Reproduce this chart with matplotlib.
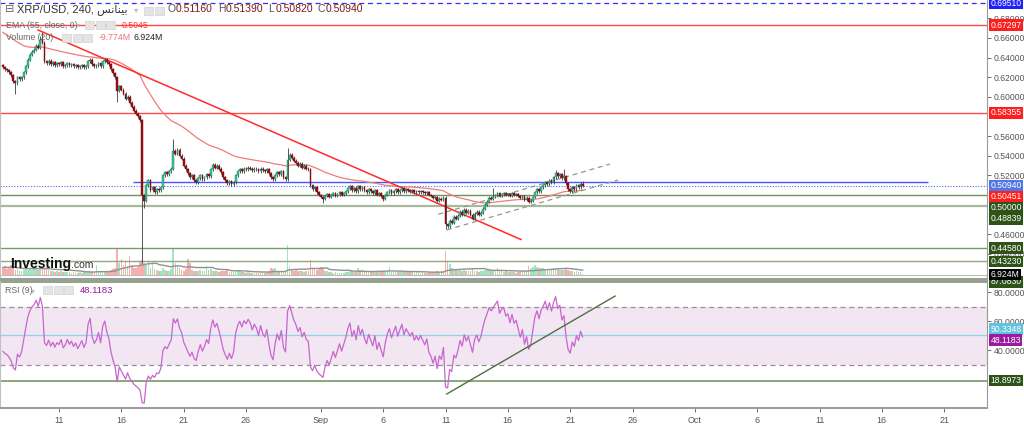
import numpy as np
import pandas as pd
import matplotlib
matplotlib.use("Agg")
import matplotlib.pyplot as plt
import matplotlib.dates as mdates
from matplotlib.transforms import blended_transform_factory
from matplotlib.patches import Rectangle

plt.rcParams['font.family'] = ['Liberation Sans', 'DejaVu Sans']
NARROW = ['Liberation Sans', 'DejaVu Sans']

# ---------------- data ----------------
start_time = "2023-08-06 12:00"      # first 4h candle
first_open = 0.6320
closes = [
    0.630, 0.628, 0.627,                          # Aug 6
    0.625, 0.622, 0.616, 0.614, 0.620, 0.618,     # Aug 7
    0.620, 0.625, 0.631, 0.638, 0.643, 0.646,     # Aug 8
    0.648, 0.652, 0.650, 0.658, 0.655, 0.636,     # Aug 9
    0.634, 0.637, 0.633, 0.635, 0.632, 0.634,     # Aug 10
    0.633, 0.635, 0.631, 0.632, 0.634, 0.632,     # Aug 11
    0.633, 0.631, 0.632, 0.630, 0.631, 0.632,     # Aug 12
    0.630, 0.631, 0.636, 0.638, 0.633, 0.631,     # Aug 13
    0.632, 0.634, 0.631, 0.636, 0.638, 0.635,     # Aug 14
    0.633, 0.628, 0.624, 0.620, 0.606, 0.611,     # Aug 15
    0.607, 0.603, 0.598, 0.600, 0.594, 0.590,     # Aug 16
    0.586, 0.583, 0.580, 0.576, 0.500, 0.494,     # Aug 17
    0.510, 0.515, 0.505, 0.508, 0.503, 0.506,     # Aug 18
    0.505, 0.508, 0.520, 0.523, 0.521, 0.524,     # Aug 19
    0.527, 0.545, 0.542, 0.546, 0.540, 0.537,     # Aug 20
    0.530, 0.526, 0.522, 0.518, 0.520, 0.515,     # Aug 21
    0.513, 0.517, 0.520, 0.516, 0.518, 0.521,     # Aug 22
    0.519, 0.526, 0.531, 0.528, 0.530, 0.527,     # Aug 23
    0.523, 0.518, 0.515, 0.512, 0.514, 0.511,     # Aug 24
    0.513, 0.520, 0.524, 0.526, 0.524, 0.527,     # Aug 25
    0.526, 0.528, 0.527, 0.525, 0.527, 0.526,     # Aug 26
    0.524, 0.527, 0.525, 0.524, 0.526, 0.522,     # Aug 27
    0.518, 0.516, 0.520, 0.523, 0.521, 0.524,     # Aug 28
    0.518, 0.516, 0.536, 0.541, 0.538, 0.535,     # Aug 29
    0.533, 0.530, 0.532, 0.528, 0.530, 0.527,     # Aug 30
    0.526, 0.510, 0.506, 0.508, 0.503, 0.500,     # Aug 31
    0.498, 0.496, 0.499, 0.501, 0.498, 0.500,     # Sep 1
    0.502, 0.499, 0.501, 0.503, 0.500, 0.502,     # Sep 2
    0.504, 0.507, 0.509, 0.505, 0.507, 0.504,     # Sep 3
    0.509, 0.506, 0.508, 0.505, 0.503, 0.506,     # Sep 4
    0.504, 0.502, 0.505, 0.500, 0.502, 0.499,     # Sep 5
    0.496, 0.500, 0.503, 0.505, 0.502, 0.504,     # Sep 6
    0.506, 0.503, 0.505, 0.507, 0.504, 0.506,     # Sep 7
    0.505, 0.504, 0.505, 0.503, 0.504, 0.503,     # Sep 8
    0.504, 0.503, 0.502, 0.503, 0.500, 0.499,     # Sep 9
    0.497, 0.498, 0.494, 0.496, 0.495, 0.497,     # Sep 10
    0.470, 0.468, 0.474, 0.472, 0.478, 0.476,     # Sep 11
    0.479, 0.483, 0.480, 0.485, 0.482, 0.484,     # Sep 12
    0.480, 0.476, 0.481, 0.483, 0.480, 0.482,     # Sep 13
    0.486, 0.490, 0.493, 0.497, 0.496, 0.498,     # Sep 14
    0.500, 0.502, 0.499, 0.501, 0.502, 0.500,     # Sep 15
    0.501, 0.499, 0.502, 0.500, 0.501, 0.499,     # Sep 16
    0.497, 0.499, 0.495, 0.497, 0.493, 0.494,     # Sep 17
    0.498, 0.503, 0.506, 0.504, 0.508, 0.510,     # Sep 18
    0.513, 0.511, 0.515, 0.513, 0.518, 0.522,     # Sep 19
    0.519, 0.521, 0.517, 0.519, 0.512, 0.506,     # Sep 20
    0.504, 0.508, 0.506, 0.510, 0.508, 0.5116,    # Sep 21
    0.5094,                                       # Sep 22
]
# notable wick extremes (candle index -> price)
high_override = {18: 0.662, 19: 0.666, 82: 0.557, 137: 0.548, 236: 0.507,
                 266: 0.525, 270: 0.527, 279: 0.5139}
low_override = {6: 0.603, 55: 0.595, 67: 0.431, 68: 0.487, 154: 0.492,
                183: 0.494, 213: 0.465, 279: 0.5082}
volumes = [  # millions
    90, 110, 70,
    100, 120, 85, 60, 75, 50,
    45, 55, 70, 60, 80, 65,
    70, 95, 60, 110, 85, 90,
    80, 60, 45, 40, 35, 40,
    35, 40, 30, 35, 30, 28,
    25, 30, 22, 25, 30, 24,
    28, 30, 45, 40, 30, 28,
    120, 45, 35, 50, 40, 45,
    40, 60, 70, 90, 330, 150,
    200, 130, 180, 110, 245, 120,
    90, 80, 100, 165, 190, 150,
    120, 165, 80, 150, 70, 60,
    50, 45, 90, 60, 50, 45,
    70, 340, 150, 110, 80, 60,
    50, 70, 200, 150, 60, 45,
    40, 45, 55, 40, 50, 110,
    60, 70, 50, 45, 40, 35,
    50, 45, 40, 55, 35, 30,
    30, 35, 55, 40, 35, 30,
    25, 28, 22, 25, 24, 26,
    25, 30, 28, 26, 35, 45,
    80, 70, 85, 45, 40, 35,
    45, 50, 380, 110, 70, 50,
    60, 45, 50, 40, 35, 40,
    45, 190, 90, 70, 60, 80,
    95, 85, 50, 40, 35, 30,
    25, 28, 22, 26, 24, 25,
    30, 35, 45, 40, 30, 35,
    80, 60, 75, 45, 40, 35,
    35, 40, 30, 45, 35, 40,
    50, 45, 40, 95, 35, 30,
    30, 35, 40, 30, 28, 35,
    30, 28, 35, 25, 30, 28,
    25, 28, 22, 25, 30, 28,
    35, 30, 40, 35, 45, 50,
    300, 175, 135, 90, 70, 60,
    65, 55, 50, 60, 45, 40,
    50, 80, 45, 40, 35, 40,
    50, 60, 55, 70, 65, 60,
    50, 80, 45, 40, 35, 40,
    30, 28, 35, 30, 25, 28,
    35, 40, 45, 50, 110, 90,
    100, 120, 95, 80, 90, 85,
    70, 60, 75, 65, 80, 90,
    70, 60, 55, 65, 75, 60,
    45, 40, 35, 40, 30, 35,
    6.924,
]
ema_seed = 0.667            # EMA value just before the first visible candle
ema_len = 55
rsi_len = 9
rsi_seed_gain = 0.0026      # Wilder averages just before the first visible candle
rsi_seed_loss = 0.0038
vol_ma_len = 20

# horizontal levels
top_dashed_level = 0.69510
red_levels = [0.67297, 0.58355]
green_levels = [0.50000, 0.48839, 0.44580, 0.43230]
blue_seg_level = 0.5130
blue_seg_span = ("2023-08-16 22:00", "2023-10-19 16:00")
last_price = 0.50940
ema_last = 0.50451
# drawn lines (time, price)
red_trend = [("2023-08-09 07:36", 0.6681), ("2023-09-17 01:12", 0.4547)]
chan_upper = [("2023-09-10 10:00", 0.4804), ("2023-09-24 04:48", 0.5316)]
chan_lower = [("2023-09-11 02:24", 0.4644), ("2023-09-24 20:24", 0.5153)]
rsi_trend = [("2023-09-11 02:24", 9.66), ("2023-09-24 14:24", 77.2)]
rsi_levels = {"upper": 70, "lower": 30, "cyan": 50.3348, "green_low": 18.8973, "green_top": 87.0830}
rsi_last = 48.1183

tick_dates = ["2023-08-11", "2023-08-16", "2023-08-21", "2023-08-26", "2023-09-01",
              "2023-09-06", "2023-09-11", "2023-09-16", "2023-09-21", "2023-09-26",
              "2023-10-01", "2023-10-06", "2023-10-11", "2023-10-16", "2023-10-21"]
tick_labels = ["11", "16", "21", "26", "Sep", "6", "11", "16", "21", "26",
               "Oct", "6", "11", "16", "21"]
price_ticks = [0.44, 0.46, 0.52, 0.54, 0.56, 0.60, 0.62, 0.64, 0.66, 0.68]
rsi_ticks = [40, 60, 80]

# ---------------- derived ----------------
def tnum(s):
    return mdates.date2num(pd.Timestamp(s).to_pydatetime())

times = pd.date_range(start_time, periods=len(closes), freq="4h")
xs = mdates.date2num(times.to_pydatetime())
c = np.array(closes, dtype=float)
o = np.r_[first_open, c[:-1]]
wick = 0.0015
hi = np.maximum(o, c) + wick
lo = np.minimum(o, c) - wick
for k, v in high_override.items():
    hi[k] = v
for k, v in low_override.items():
    lo[k] = v
up = c >= o

alpha = 2.0 / (ema_len + 1)
ema = np.empty_like(c)
prev = ema_seed
for i, v in enumerate(c):
    prev = prev + alpha * (v - prev)
    ema[i] = prev

d = np.diff(c, prepend=first_open)
gain = np.clip(d, 0, None)
loss = np.clip(-d, 0, None)
rsi = np.empty_like(c)
ag, al = rsi_seed_gain, rsi_seed_loss
for i in range(len(c)):
    ag = (ag * (rsi_len - 1) + gain[i]) / rsi_len
    al = (al * (rsi_len - 1) + loss[i]) / rsi_len
    rsi[i] = 100.0 if al == 0 else 100 - 100 / (1 + ag / al)

vol = np.array(volumes, dtype=float)
vol_ma = pd.Series(vol).rolling(vol_ma_len, min_periods=1).mean().values

# ---------------- figure ----------------
W, H = 1024, 424
fig = plt.figure(figsize=(W / 100, H / 100), dpi=100)
fig.patch.set_facecolor('white')

def fx(x):
    return x / W

def fy(y):
    return 1 - y / H

MAIN_BOT = 278
ax = fig.add_axes([0, fy(MAIN_BOT), fx(987), MAIN_BOT / H])
rax = fig.add_axes([0, fy(408), fx(987), (408 - 281) / H], sharex=ax)

PX_PER = 981.8
def p2px(p):
    return 18.3 + (0.68 - p) * PX_PER
def px2p(y):
    return 0.68 - (y - 18.3) / PX_PER

ax.set_ylim(px2p(MAIN_BOT), px2p(0))
ax.set_xlim(tnum("2023-08-06 06:24"), tnum("2023-10-24 10:20"))

# volume overlay
vax = ax.twinx()
M_PER_PX = 13.0
vbase = 274.5
vax.set_ylim(-(MAIN_BOT - vbase) * M_PER_PX, vbase * M_PER_PX)
vcol = np.where(up, '#9fe5c6', '#f7aeae')
vax.bar(xs, vol, width=0.8 * 4 / 24, color=vcol, lw=0, zorder=1)
vax.plot(xs, vol_ma, color='#929292', lw=1.0, zorder=2)
vax.axhline(0, color='#b5c2ad', lw=0.8)
vax.axis('off')
ax.set_zorder(vax.get_zorder() + 1)
ax.patch.set_visible(False)

# horizontal levels
ax.axhline(top_dashed_level, color='#3030ff', lw=0.9, ls=(0, (4, 3)), zorder=2)
for lv in red_levels:
    ax.axhline(lv, color='#ff4a4a', lw=1.0, zorder=2)
ax.axhline(green_levels[0], color='#6f8f5c', lw=1.0, zorder=2)
ax.axhline(green_levels[1], color='#a9b99c', lw=1.6, zorder=2)
ax.axhline(green_levels[2], color='#7c9a6a', lw=1.0, zorder=2)
ax.axhline(green_levels[3], color='#8fa880', lw=1.0, zorder=2)
ax.hlines(blue_seg_level, tnum(blue_seg_span[0]), tnum(blue_seg_span[1]),
          color='#4a55ff', lw=1.0, zorder=2)
ax.axhline(last_price, color='#4f74e3', lw=0.8, ls=(0, (1, 1.5)), zorder=2)

# EMA
ax.plot(xs, ema, color='#f27a7a', lw=0.9, zorder=3)

def seg(a, pts, **kw):
    a.plot([tnum(pts[0][0]), tnum(pts[1][0])], [pts[0][1], pts[1][1]], **kw)

seg(ax, red_trend, color='#ff2b2b', lw=1.1, zorder=3)
seg(ax, chan_upper, color='#8f9c86', lw=0.9, ls=(0, (4, 3)), zorder=3)
seg(ax, chan_lower, color='#8f9c86', lw=0.9, ls=(0, (4, 3)), zorder=3)

# candles
body_w = 0.85 * 4 / 24
body_bot = np.minimum(o, c)
body_h = np.maximum(np.abs(c - o), 0.0008)
ax.vlines(xs, lo, hi, color='#3c3c3c', lw=0.6, zorder=4)
ax.bar(xs[up], body_h[up], bottom=body_bot[up], width=body_w,
       color='#33cc9f', edgecolor='#1f6b55', lw=0.3, zorder=5)
ax.bar(xs[~up], body_h[~up], bottom=body_bot[~up], width=body_w,
       color='#a10e12', edgecolor='#6a090b', lw=0.3, zorder=5)

# price axis
ax.yaxis.tick_right()
ax.set_yticks(price_ticks)
ax.set_yticklabels([f"{t:.5f}" for t in price_ticks], fontfamily=NARROW)
ax.tick_params(axis='y', labelsize=6.2, colors='#555555', length=3, pad=2, width=0.6)
ax.tick_params(axis='x', bottom=False, labelbottom=False)
ax.spines['top'].set_visible(False)
ax.spines['bottom'].set_color('#b9c5b1')
ax.spines['left'].set_color('#c0c0c0')
ax.spines['right'].set_color('#9a9a9a')

LBL_FS = 6.2
main_labels = [
    (top_dashed_level, f"{top_dashed_level:.5f}", '#2020ff'),
    (red_levels[0], f"{red_levels[0]:.5f}", '#ff1e1e'),
    (red_levels[1], f"{red_levels[1]:.5f}", '#ff1e1e'),
    (last_price, f"{last_price:.5f}", '#5276e6'),
    (ema_last, f"{ema_last:.5f}", '#ff1e1e'),
    (green_levels[0], f"{green_levels[0]:.5f}", '#2e5318'),
    (green_levels[1], f"{green_levels[1]:.5f}", '#2e5318'),
    (green_levels[2], f"{green_levels[2]:.5f}", '#2e5318'),
    (green_levels[3], f"{green_levels[3]:.5f}", '#2e5318'),
]
main_labels.sort(key=lambda t: -t[0])
trans = blended_transform_factory(ax.transAxes, ax.transData)
prev_y = -100
for p, txt, col in main_labels:
    y = max(p2px(p), prev_y + 11)
    prev_y = y
    ax.text(1.0035, px2p(y), txt, transform=trans, ha='left', va='center',
            fontsize=LBL_FS, color='white', fontfamily=NARROW, zorder=20, clip_on=False,
            bbox=dict(boxstyle='square,pad=0.15', fc=col, ec='none'))
fig.text(fx(990.5), fy(274.5), f"{volumes[-1]:.3f}M", ha='left', va='center',
         fontsize=LBL_FS, color='white', fontfamily=NARROW, zorder=20,
         bbox=dict(boxstyle='square,pad=0.15', fc='black', ec='none'))

# separator between panes
fig.patches.append(Rectangle((0, fy(281)), fx(988), 3 / H, transform=fig.transFigure,
                             fc='#9c9c9c', ec='none', zorder=5))

# watermark
fig.text(fx(10), fy(268), "Investing", fontsize=10, fontweight='bold', color='#111111',
         ha='left', va='baseline', zorder=30)
fig.text(fx(71), fy(268), ".com", fontsize=7.5, color='#333333', ha='left', va='baseline', zorder=30)

# ---------------- RSI pane ----------------
rax.set_ylim(0, 87.6)
rax.axhspan(rsi_levels["lower"], rsi_levels["upper"], color='#f3e6f3', lw=0, zorder=0)
rax.axhline(rsi_levels["upper"], color='#9c8c9c', lw=0.9, ls=(0, (4, 3)), zorder=1)
rax.axhline(rsi_levels["lower"], color='#9c8c9c', lw=0.9, ls=(0, (4, 3)), zorder=1)
rax.axhline(rsi_levels["cyan"], color='#8fd4e6', lw=0.9, zorder=1)
rax.axhline(rsi_levels["green_low"], color='#6b8f58', lw=1.1, zorder=1)
rax.axhline(rsi_levels["green_top"], color='#6b8f58', lw=1.1, zorder=1)
rax.plot(xs, rsi, color='#c766cc', lw=0.9, zorder=3)
seg(rax, rsi_trend, color='#4f6f3f', lw=1.0, zorder=4)

rax.yaxis.tick_right()
rax.set_yticks(rsi_ticks)
rax.set_yticklabels([f"{t:.4f}" for t in rsi_ticks], fontfamily=NARROW)
rax.tick_params(axis='y', labelsize=6.2, colors='#555555', length=3, pad=2, width=0.6)
rax.set_xticks([tnum(t) for t in tick_dates])
rax.set_xticklabels(tick_labels, fontfamily=NARROW)
rax.tick_params(axis='x', labelsize=6.5, colors='#555555', length=3, pad=3, width=0.6)
rax.spines['top'].set_visible(False)
rax.spines['bottom'].set_color('#9a9a9a')
rax.spines['bottom'].set_linewidth(1.4)
rax.spines['left'].set_color('#c0c0c0')
rax.spines['right'].set_color('#9a9a9a')

rtrans = blended_transform_factory(rax.transAxes, rax.transData)
def rpx(v):
    return 408 - v * (127 / 87.6)
def px2r(y):
    return (408 - y) / (127 / 87.6)
rsi_lbls = [
    (rpx(rsi_levels["green_top"]), f"{rsi_levels['green_top']:.4f}", '#2e5318'),
    (rpx(rsi_levels["cyan"]) - 6.0, f"{rsi_levels['cyan']:.4f}", '#62c3dc'),
    (rpx(rsi_last) + 2.0, f"{rsi_last:.4f}", '#9a1aa0'),
    (rpx(rsi_levels["green_low"]), f"{rsi_levels['green_low']:.4f}", '#2e5318'),
]
for y, txt, col in rsi_lbls:
    rax.text(1.0035, px2r(y), txt, transform=rtrans, ha='left', va='center',
             fontsize=LBL_FS, color='white', fontfamily=NARROW, zorder=20, clip_on=False,
             bbox=dict(boxstyle='square,pad=0.15', fc=col, ec='none'))

# ---------------- header texts ----------------
def icons(x0, y0, n):
    for k in range(n):
        fig.patches.append(Rectangle((fx(x0 + k * 10.5), fy(y0 + 8)), 9 / W, 8 / H,
                                     transform=fig.transFigure, fc='#e4e4e4',
                                     ec='#d2d2d2', lw=0.5, zorder=30))

fig.text(fx(5), fy(12), "\u229f", fontsize=8, color='#666666', va='baseline', zorder=31,
         family=['DejaVu Sans'])
arabic = "\uFEB2\uFEE7\uFE8E\uFEE8\uFEF4\uFE91"   # بينانس
fig.text(fx(17), fy(12), "XRP/USD, 240, " + arabic, fontsize=8.0, color='#333333',
         va='baseline', zorder=31)
fig.text(fx(134), fy(12), "\u25be", fontsize=6, color='#bbbbbb', va='baseline', zorder=31,
         family=['DejaVu Sans'])
icons(144, 7, 2)
for xl, letter, val in [(168, "O", "0.51160"), (218, "H", "0.51390"),
                        (268, "L", "0.50820"), (318, "C", "0.50940")]:
    fig.text(fx(xl), fy(12), letter, fontsize=7.5, color='#555555', va='baseline', zorder=31)
    fig.text(fx(xl + 7.5), fy(12), val, fontsize=7.5, color='#7a1a1a', va='baseline', zorder=31)

fig.text(fx(6), fy(27.5), "EMA (55, close, 0)", fontsize=6.3, color='#666666',
         va='baseline', zorder=31)
fig.text(fx(76), fy(27.5), "\u25be", fontsize=5.5, color='#bbbbbb', va='baseline', zorder=31,
         family=['DejaVu Sans'])
icons(85, 20.5, 3)
fig.text(fx(122), fy(27.5), "0.5045", fontsize=6.3, color='#ff3030', va='baseline', zorder=31)

fig.text(fx(6), fy(40.5), "Volume (20)", fontsize=6.3, color='#666666', va='baseline', zorder=31)
icons(62, 33.5, 3)
fig.text(fx(99), fy(40.5), "-9.774M", fontsize=6.3, color='#f07070', va='baseline', zorder=31)
fig.text(fx(133), fy(40.5), "6.924M", fontsize=6.3, color='#222222', va='baseline', zorder=31)

fig.text(fx(5), fy(293), "RSI (9)", fontsize=6.3, color='#666666', va='baseline', zorder=31)
fig.text(fx(31), fy(293), "\u25be", fontsize=5.5, color='#bbbbbb', va='baseline', zorder=31,
         family=['DejaVu Sans'])
icons(43, 286, 3)
fig.text(fx(80), fy(293), f"{rsi_last:.4f}", fontsize=6.8, color='#9a1aa0',
         va='baseline', zorder=31)

fig.savefig("out.png", dpi=100, facecolor='white')
